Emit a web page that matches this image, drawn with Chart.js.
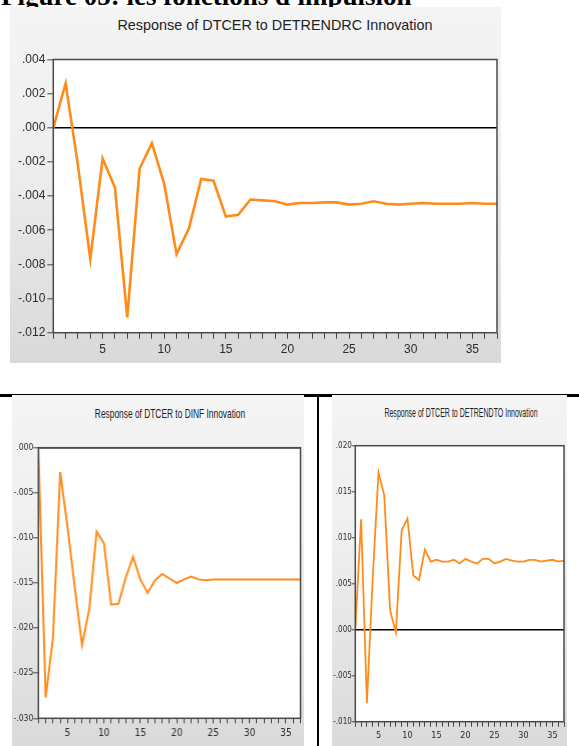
<!DOCTYPE html>
<html>
<head>
<meta charset="utf-8">
<script src="https://cdn.jsdelivr.net/npm/chart.js@4.4.0/dist/chart.umd.min.js"></script>
<style>
  body { margin:0; width:579px; height:746px; overflow:hidden; background:#fff; position:relative; }
  #heading { position:absolute; left:1px; top:-17px; font:bold 27px/27px 'Liberation Serif', 'Times New Roman', serif; color:#000; white-space:nowrap; }
  .rule { position:absolute; background:#000; }
  .panel { position:absolute; overflow:hidden; background:linear-gradient(to bottom, #f4f4f4 0%, #efefef 40%, #d9d9d9 100%); }
  .panel .box { position:absolute; left:0; top:0; }
  .title { position:absolute; white-space:nowrap; color:#222; font-family:'Liberation Sans', Arial, sans-serif; }
</style>
</head>
<body>
<div id="heading">Figure 05: les fonctions d'impulsion</div>
<div class="rule" style="left:0; top:394px; width:579px; height:2.5px"></div>
<div class="rule" style="left:316.5px; top:394px; width:2.5px; height:360px"></div>

<div class="panel" style="left:10px; top:7px; width:491px; height:356px">
  <div class="title" style="left:265px; top:18px; font-size:14.4px; transform:translate(-50%,-50%)">Response of DTCER to DETRENDRC Innovation</div>
  <div class="box" style="width:491px; height:356px"><canvas id="c1"></canvas></div>
</div>

<div class="panel" style="left:12px; top:395px; width:291.5px; height:360px">
  <div class="title" style="left:158px; top:18px; font-size:13.5px; transform:translate(-50%,-50%) scaleX(0.62)">Response of DTCER to DINF Innovation</div>
  <div class="box" style="width:291.5px; height:360px"><canvas id="c2"></canvas></div>
</div>

<div class="panel" style="left:331.7px; top:395px; width:235.6px; height:360px">
  <div class="title" style="left:129px; top:17px; font-size:13.5px; transform:translate(-50%,-50%) scaleX(0.52)">Response of DTCER to DETRENDTO Innovation</div>
  <div class="box" style="width:236px; height:360px"><canvas id="c3"></canvas></div>
</div>

<script>
// periods of the impulse response
const periods = [1,2,3,4,5,6,7,8,9,10,11,12,13,14,15,16,17,18,19,20,21,22,23,24,25,26,27,28,29,30,31,32,33,34,35,36,37];
const xLabels = [5,10,15,20,25,30,35];

// Response of DTCER to DETRENDRC
const respDetrendrc = [0, 0.0026, -0.0022, -0.0077, -0.0018, -0.0035, -0.0111, -0.0024, -0.0009, -0.0033,
  -0.0074, -0.0059, -0.0030, -0.0031, -0.0052, -0.0051, -0.0042, -0.00425, -0.0043, -0.0045,
  -0.0044, -0.0044, -0.00437, -0.00437, -0.0045, -0.00445, -0.0043, -0.00445, -0.0045, -0.00445,
  -0.0044, -0.00445, -0.00445, -0.00445, -0.0044, -0.00445, -0.00445];

// Response of DTCER to DINF
const respDinf = [0, -0.0277, -0.0211, -0.0027, -0.0088, -0.0155, -0.0219, -0.0178, -0.0093, -0.0106,
  -0.0174, -0.0173, -0.0144, -0.0121, -0.0146, -0.0161, -0.0147, -0.0140, -0.0145, -0.0150,
  -0.0146, -0.0143, -0.0146, -0.0147, -0.0146, -0.0146, -0.0146, -0.0146, -0.0146, -0.0146,
  -0.0146, -0.0146, -0.0146, -0.0146, -0.0146, -0.0146, -0.0146];

// Response of DTCER to DETRENDTO
const respDetrendto = [0, 0.0120, -0.0080, 0.0056, 0.0171, 0.0146, 0.0021, -0.0003, 0.0108, 0.0121,
  0.0059, 0.0054, 0.0087, 0.0074, 0.0076, 0.0074, 0.0074, 0.0076, 0.0072, 0.0077,
  0.0074, 0.0072, 0.0077, 0.0077, 0.0072, 0.0074, 0.0077, 0.0075, 0.0074, 0.0074,
  0.0076, 0.0076, 0.0074, 0.0075, 0.0076, 0.0074, 0.0075];

const yRangeDetrendrc = [-0.012, 0.004, 0.002];
const yRangeDinf = [-0.030, 0.000, 0.005];
const yRangeDetrendto = [-0.010, 0.020, 0.005];

const lineColor = '#ff8c1a';
const tickText = '#2a2a35';
const narrow = "'Liberation Sans Narrow', 'DejaVu Sans Condensed', 'Liberation Sans', sans-serif";

// white plot area + dark frame, like eviews
const framePlugin = {
  id: 'frame',
  beforeDraw(chart) {
    const a = chart.chartArea, ctx = chart.ctx;
    ctx.save();
    ctx.fillStyle = '#fff';
    ctx.fillRect(a.left, a.top, a.width, a.height);
    ctx.restore();
  },
  afterDraw(chart) {
    const a = chart.chartArea, ctx = chart.ctx;
    ctx.save();
    ctx.strokeStyle = '#4a4a4a';
    ctx.lineWidth = 1.5;
    ctx.strokeRect(a.left, a.top, a.width, a.height);
    ctx.restore();
  }
};

function fmt(v) {
  if (Math.abs(v) < 1e-9) v = 0;
  return v.toFixed(3).replace('0.', '.');
}

function makeChart(id, values, yr, o) {
  return new Chart(document.getElementById(id), {
    type: 'line',
    data: {
      datasets: [{
        data: periods.map((p, i) => ({ x: p, y: values[i] })),
        borderColor: lineColor,
        borderWidth: o.lw,
        pointRadius: 0,
        tension: 0
      }]
    },
    options: {
      responsive: true,
      maintainAspectRatio: false,
      animation: false,
      layout: { padding: { top: o.padTop, right: o.padRight, left: 0, bottom: 0 } },
      plugins: { legend: { display: false }, title: { display: false }, tooltip: { enabled: false } },
      scales: {
        x: {
          type: 'linear', min: 1, max: 37,
          afterFit: s => { s.height = o.xH; },
          border: { display: false },
          grid: { drawOnChartArea: false, tickLength: o.xTick, tickColor: '#444', tickWidth: 1 },
          ticks: {
            stepSize: 1, autoSkip: false, maxRotation: 0, minRotation: 0,
            padding: o.xPad, color: tickText, font: o.xFont,
            callback: v => xLabels.includes(v) ? String(v) : ''
          }
        },
        y: {
          min: yr[0], max: yr[1],
          afterFit: s => { s.width = o.yW; },
          border: { display: false },
          grid: {
            color: c => (c.tick && Math.abs(c.tick.value) < 1e-9) ? '#000' : 'rgba(0,0,0,0)',
            lineWidth: 1.6, tickLength: o.yTick, tickColor: '#444', tickWidth: 1
          },
          ticks: { stepSize: yr[2], padding: o.yPad, color: tickText, font: o.yFont, callback: fmt }
        }
      }
    },
    plugins: [framePlugin]
  });
}

const f12 = { family: "'Liberation Sans', Arial, sans-serif", size: 12 };
makeChart('c1', respDetrendrc, yRangeDetrendrc, {
  lw: 2.6, padTop: 52.5, padRight: 3.3, xH: 30.3, yW: 43.3,
  xTick: 6, xPad: 4, yTick: 6, yPad: 2, xFont: f12, yFont: f12
});

makeChart('c2', respDinf, yRangeDinf, {
  lw: 2, padTop: 52.7, padRight: 1.2, xH: 36.7, yW: 26.3,
  xTick: 5, xPad: 4, yTick: 5, yPad: 0,
  xFont: { family: narrow, size: 10 }, yFont: { family: narrow, size: 8.5 }
});

makeChart('c3', respDetrendto, yRangeDetrendto, {
  lw: 1.8, padTop: 50.7, padRight: 0, xH: 33.3, yW: 23.3,
  xTick: 5, xPad: 4, yTick: 3.5, yPad: 0,
  xFont: { family: narrow, size: 9 }, yFont: { family: narrow, size: 8 }
});
</script>
</body>
</html>
